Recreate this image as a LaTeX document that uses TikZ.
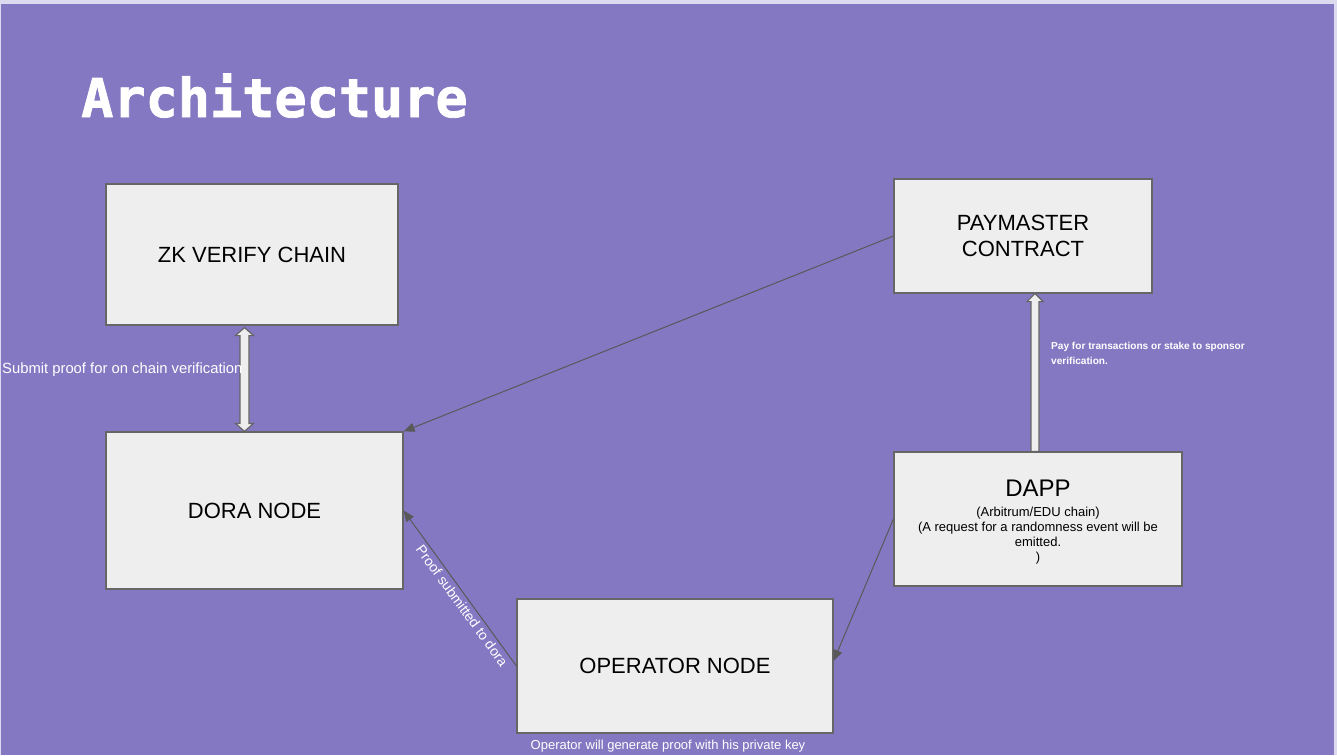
\documentclass[tikz,border=0pt]{standalone}
\usepackage{fontspec}
\setmainfont{Liberation Sans}
\newfontfamily\titlefont[BoldFeatures={FakeBold=1.5}]{DejaVu Sans Mono}
\usetikzlibrary{arrows.meta,calc}
\definecolor{bgpurple}{HTML}{8478C2}
\definecolor{frame}{HTML}{DCDAEE}
\definecolor{boxfill}{HTML}{EEEEEE}
\definecolor{boxline}{HTML}{666666}
\definecolor{conn}{HTML}{595959}
\tikzset{
  box/.style={draw=boxline, fill=boxfill, line width=1.2pt, inner sep=0pt, align=center, text=black},
  bigtxt/.style={font=\fontsize{22}{26}\selectfont},
  lbl/.style={text=white, inner sep=0pt},
  conline/.style={draw=conn, line width=1pt, -{Triangle[length=11pt,width=9pt]}},
  blk/.style={draw=boxline, fill=boxfill, line width=1.2pt, line join=miter}
}
\begin{document}
\begin{tikzpicture}[x=1pt,y=-1pt]
\useasboundingbox (0,0) rectangle (1337,755);
\fill[frame] (0,0) rectangle (1337,755);
\fill[bgpurple] (1,4) rectangle (1334,755);

\node[lbl, anchor=base west, font=\titlefont\bfseries\fontsize{53.5}{60}\selectfont] (title) at (81,117) {Architecture};

\node[box, bigtxt, minimum width=292, minimum height=141] (zk) at (252,254.5) {ZK VERIFY CHAIN};
\node[box, bigtxt, minimum width=258, minimum height=114] (pay) at (1023,236) {PAYMASTER\\CONTRACT};
\node[box, bigtxt, minimum width=297, minimum height=157] (dora) at (254.5,510.5) {DORA NODE};
\node[box, minimum width=288, minimum height=134] (dapp) at (1038,519) {};
\node[align=center, inner sep=0pt, text=black, font=\fontsize{13}{15}\selectfont] (dapptxt) at ([yshift=-3pt]dapp.center)
  {{\fontsize{24}{24}\selectfont DAPP}\\[5pt](Arbitrum/EDU chain)\\(A request for a randomness event will be\\emitted.\\)};
\node[box, bigtxt, minimum width=316, minimum height=134] (op) at (675,666) {OPERATOR NODE};

% double block arrow ZK <-> DORA
\coordinate (t) at ([xshift=-7.5pt,yshift=-2pt]zk.south);
\coordinate (b) at (t |- dora.north);
\draw[blk] (t) -- ($(t)+(9,8)$) -- ($(t)+(4.5,8)$) -- ($(b)+(4.5,-8)$) -- ($(b)+(9,-8)$) -- (b)
  -- ($(b)+(-9,-8)$) -- ($(b)+(-4.5,-8)$) -- ($(t)+(-4.5,8)$) -- ($(t)+(-9,8)$) -- cycle;
\node[lbl, anchor=west, font=\fontsize{14.8}{17}\selectfont] (sublbl) at (2,370) {Submit proof for on chain verification};

% block arrow DAPP -> PAYMASTER
\coordinate (pt) at ([xshift=12pt]pay.south);
\coordinate (pb) at (pt |- dapp.north);
\draw[blk] (pt) -- ($(pt)+(8,8)$) -- ($(pt)+(4,8)$) -- ($(pb)+(4,0)$) -- ($(pb)+(-4,0)$)
  -- ($(pt)+(-4,8)$) -- ($(pt)+(-8,8)$) -- cycle;
\node[lbl, anchor=west, align=left, font=\bfseries\fontsize{10.1}{15}\selectfont] (paylbl) at (1051,353.5)
  {Pay for transactions or stake to sponsor\\verification.};

% connectors
\draw[conline] (pay.west) -- (dora.north east);
\draw[conline] (dapp.west) -- ([yshift=5pt]op.east);
\draw[conline] (op.west) -- (dora.east)
  node[pos=0.42, sloped, below, text=white, inner sep=3pt, font=\fontsize{14}{16}\selectfont] (prooflbl) {Proof submitted to dora};

\node[lbl, font=\fontsize{13}{15}\selectfont] (oplbl) at ([xshift=-7pt,yshift=-13pt]op.south) {Operator will generate proof with his private key};
\end{tikzpicture}
\end{document}
